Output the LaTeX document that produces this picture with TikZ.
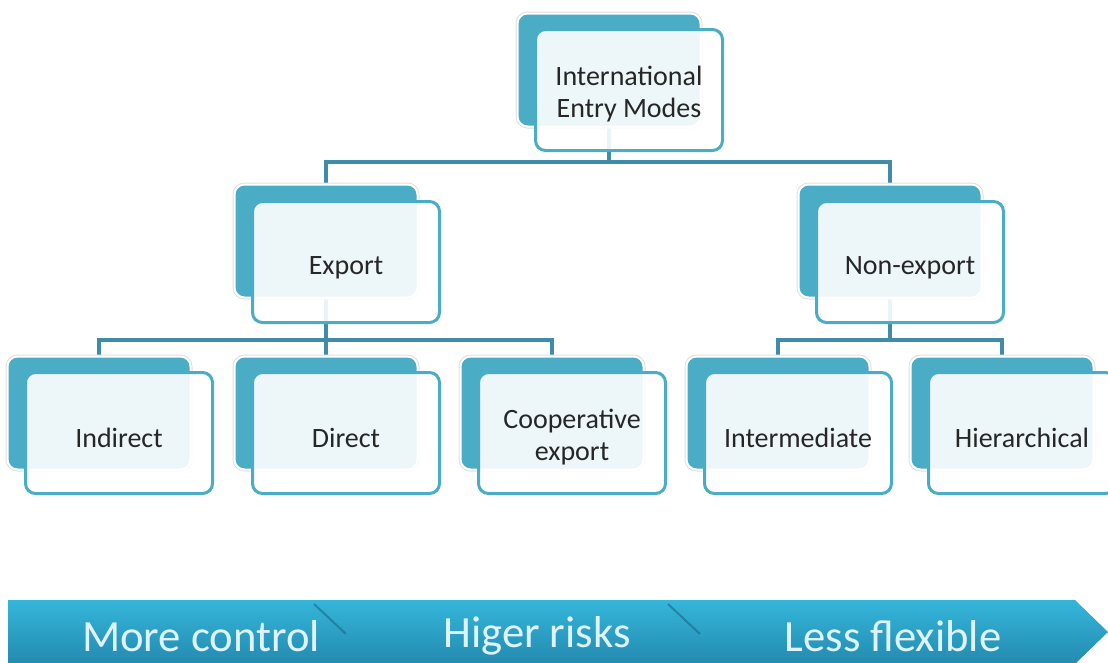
\documentclass[tikz,border=0pt]{standalone}
\usepackage{fontspec}
\setmainfont{Carlito}
\usetikzlibrary{backgrounds}
\definecolor{aqua}{RGB}{75,172,198}
\definecolor{conncol}{RGB}{62,140,168}
\definecolor{txtcol}{RGB}{38,38,38}
\definecolor{bartop}{RGB}{52,182,218}
\definecolor{barbot}{RGB}{36,138,176}
\definecolor{bartxt}{RGB}{222,244,250}
\definecolor{markcol}{RGB}{28,96,126}
\begin{document}
\begin{tikzpicture}[x=0.75pt,y=-0.75pt,
  backbox/.style={fill=aqua, draw=white, line width=1.5pt, rounded corners=7.5pt,
    preaction={draw=black!12, line width=3pt},
    minimum width=137.25pt, minimum height=84.75pt, inner sep=0pt},
  frontbox/.style={fill=white, fill opacity=0.9, draw=aqua, line width=2.25pt,
    rounded corners=7.5pt, minimum width=140.25pt, minimum height=90.75pt, inner sep=0pt},
  boxtext/.style={align=center, text=txtcol, inner sep=0pt, font=\fontsize{21}{24}\selectfont},
  conn/.style={draw=conncol, line width=3pt},
  bartext/.style={text=bartxt, font=\fontsize{33.5}{36}\selectfont, inner sep=0pt},
  slashline/.style={draw=markcol, line width=1.5pt, opacity=0.55}]
\useasboundingbox (0,0) rectangle (1108,662);

% level 0
\node[backbox] (topB) at (609,70) {};
\node[frontbox] (top) at (629,90) {};
\node[boxtext] (topT) at ([yshift=-3pt]top.center) {International\\Entry Modes};
% level 1
\node[backbox] (expB) at (326,241) {};
\node[frontbox] (exp) at (346,262) {};
\node[boxtext] (expT) at ([yshift=-4pt]exp.center) {Export};
\node[backbox] (nexB) at (890,241) {};
\node[frontbox] (nex) at (910,262) {};
\node[boxtext] (nexT) at ([yshift=-4pt]nex.center) {Non-export};
% level 2
\node[backbox] (indB) at (99,413) {};
\node[frontbox] (ind) at (119,433) {};
\node[boxtext] (indT) at ([yshift=-4pt]ind.center) {Indirect};
\node[backbox] (dirB) at (326,413) {};
\node[frontbox] (dir) at (346,433) {};
\node[boxtext] (dirT) at ([yshift=-4pt]dir.center) {Direct};
\node[backbox] (coopB) at (552,413) {};
\node[frontbox] (coop) at (572,433) {};
\node[boxtext] (coopT) at ([yshift=-3pt]coop.center) {Cooperative\\export};
\node[backbox] (intB) at (778,413) {};
\node[frontbox] (int) at (798,433) {};
\node[boxtext] (intT) at ([yshift=-4pt]int.center) {Intermediate};
\node[backbox] (hieB) at (1002,413) {};
\node[frontbox] (hie) at (1022,433) {};
\node[boxtext] (hieT) at ([yshift=-4pt]hie.center) {Hierarchical};

\coordinate (j1) at (609,162);
\coordinate (j2) at (326,340);
\coordinate (j3) at (890,340);

\begin{scope}[on background layer]
  \fill[white] (0,0) rectangle (1108,662);
  \draw[conn] (topB.center) -- (j1);
  \draw[conn] (expB.center) |- (j1) -| (nexB.center);
  \draw[conn] (expB.center) -- (j2);
  \draw[conn] (indB.center) |- (j2) -| (coopB.center);
  \draw[conn] (dirB.center) -- (j2);
  \draw[conn] (nexB.center) -- (j3);
  \draw[conn] (intB.center) |- (j3) -| (hieB.center);
\end{scope}

% bottom arrow
\shade[top color=bartop, bottom color=barbot] (8,600) -- (1075,600) -- (1108,632) -- (1075,664) -- (8,664) -- cycle;
\draw[slashline] (314,604) -- (346,634);
\draw[slashline] (668,604) -- (700,634);
\node[bartext] (b1) at (201,636) {More control};
\node[bartext] (b2) at (537,636) {Higer risks};
\node[bartext] (b3) at (893,636) {Less flexible};
\end{tikzpicture}
\end{document}
